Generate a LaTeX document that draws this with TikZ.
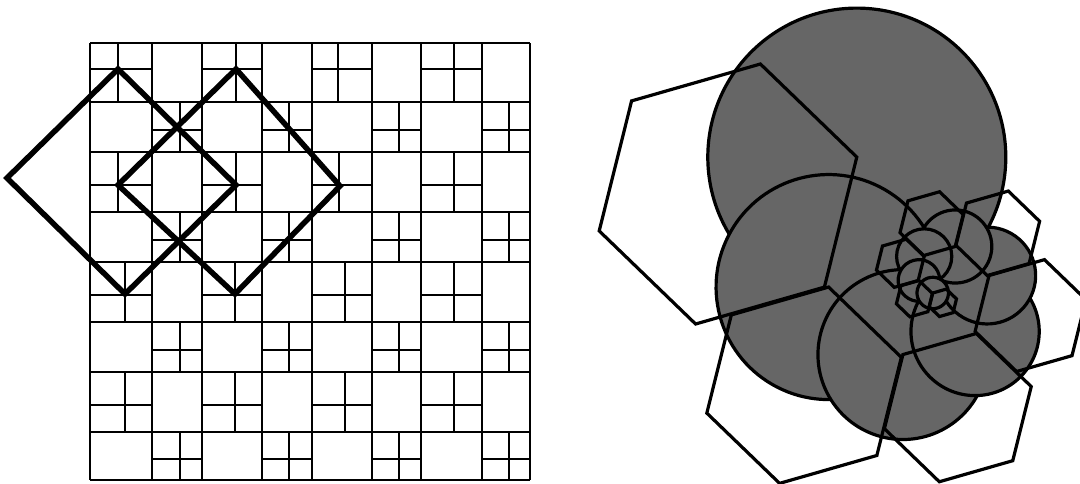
\documentclass[tikz,border=0pt]{standalone}
\begin{document}
\begin{tikzpicture}[x=1pt,y=-1pt,
  gridline/.style={line width=2pt},
  sqline/.style={line width=5.5pt},
  disc/.style={fill=black!60,draw=black,line width=3.2pt},
  hexline/.style={draw=black,line width=3.2pt}]
\useasboundingbox (0,0) rectangle (1080,483);
% the grid of cells
\foreach \x in {90,152,202,262,312,372,421,482,530}\draw[gridline] (\x,43)--(\x,480);
\foreach \y in {43,102,152,212,262,322,372,432,480}\draw[gridline] (90,\y)--(530,\y);
% cells cut in four
\foreach \xl/\xr/\yt/\yb/\sx/\sy in {
  90/152/43/102/118/69,202/262/43/102/236/69,312/372/43/102/338/69,421/482/43/102/454/69,
  90/152/152/212/118/185,202/262/152/212/236/185,312/372/152/212/339/185,421/482/152/212/454/185,
  90/152/262/322/125/295,202/262/262/322/235/295,312/372/262/322/345/295,421/482/262/322/454/295,
  90/152/372/432/125/405,202/262/372/432/235/405,312/372/372/432/345/405,421/482/372/432/454/405,
  152/202/102/152/180/130,262/312/102/152/289/130,372/421/102/152/399/130,482/530/102/152/509/130,
  152/202/212/262/180/240,262/312/212/262/289/240,372/421/212/262/399/240,482/530/212/262/509/240,
  152/202/322/372/180/350,262/312/322/372/289/350,372/421/322/372/399/350,482/530/322/372/509/350,
  152/202/432/480/180/459,262/312/432/480/289/459,372/421/432/480/399/459,482/530/432/480/509/459}
  \draw[gridline] (\sx,\yt)--(\sx,\yb) (\xl,\sy)--(\xr,\sy);
% two tilted squares
\foreach \n/\x/\y in {p/118/69,q/236/69,a/7/178,b/118/185,c/236/185,d/340/186,e/125/294,f/235/294}{\coordinate (\n) at (\x,\y);}
\draw[sqline] (p)--(c)--(e)--(a)--cycle (q)--(d)--(f)--(b)--cycle;

% spiral of discs and hexagons
\coordinate (O) at (939.5,279);
\foreach \n [evaluate=\n as \f using 0.755^\n] in {0,...,8}{
  \begin{scope}[rotate around={60*\n:(O)},scale around={\f:(O)}]
    \filldraw[disc] (856.8,157.1) circle (149);
  \end{scope}
}
\foreach \n [evaluate=\n as \f using 0.755^\n] in {0,...,8}{
  \begin{scope}[rotate around={60*\n:(O)},scale around={\f:(O)}]
    \draw[hexline] (856.8,157.1)--(824.4,287.1)--(695.6,324)--(599.2,230.9)--(631.6,100.9)--(760.4,64)--cycle;
  \end{scope}
}
\end{tikzpicture}
\end{document}
